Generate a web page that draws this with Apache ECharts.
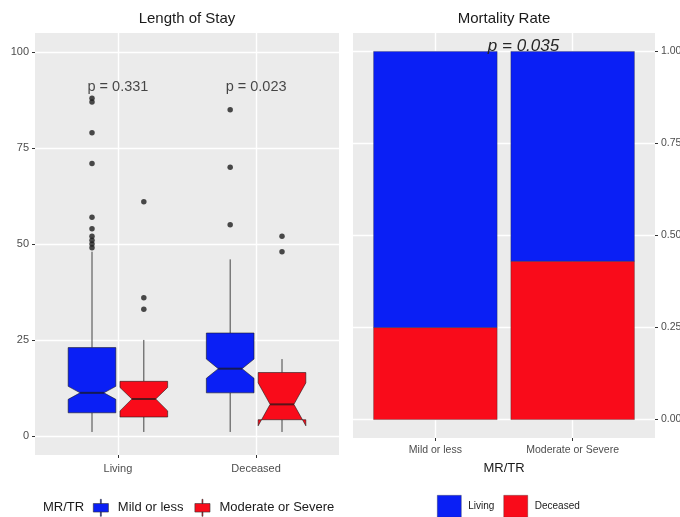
<!DOCTYPE html>
<html>
<head>
<meta charset="utf-8">
<script src="https://cdn.jsdelivr.net/npm/echarts@6/dist/echarts.min.js"></script>
<style>html,body{margin:0;padding:0;background:#fff;}#chart{width:680px;height:517px;}</style>
</head>
<body>
<div id="chart"></div>
<script>
// ---------- data ----------
const categories = ['Living', 'Deceased'];
const mrGroups = ['Mild or less', 'Moderate or Severe'];
// [low whisker, Q1, notch low, median, notch high, Q3, high whisker]
const mildStats = [[1, 6, 9.5, 11.2, 12.9, 23, 48], [1, 11.2, 15, 17.5, 20, 26.8, 46]];
const severeStats = [[1, 4.9, 6.5, 9.6, 12.6, 14.2, 25], [1, 4.2, 2.6, 8.2, 13.8, 16.5, 20]];
const mildOutliers = [[49, 50, 51, 52, 54, 57, 71, 79, 87, 88], [55, 70, 85]];
const severeOutliers = [[33, 36, 61], [48, 52]];
const losPValues = ['p = 0.331', 'p = 0.023'];
const losTicks = [0, 25, 50, 75, 100];
const losMinor = [12.5, 37.5, 62.5, 87.5];

const mortCategories = ['Mild or less', 'Moderate or Severe'];
const outcomeNames = ['Living', 'Deceased'];
const livingShare = [0.75, 0.57];
const deceasedShare = [0.25, 0.43];
const mortTicks = [0, 0.25, 0.5, 0.75, 1];
const mortMinor = [0.125, 0.375, 0.625, 0.875];
const mortPValue = 'p = 0.035';

// ---------- style ----------
const FONT = '"Liberation Sans", Arial, Helvetica, sans-serif';
const BLUE = '#0a1ff5';
const RED = '#f90b1a';
const PANEL = '#ebebeb';
const DODGE = 0.1875, BOX_W = 0.345, NOTCH = 0.5, BAR_W = 0.9;
const STROKE = 'rgba(25,25,25,0.72)';

function boxData(stats, offset) {
  return stats.map((s, i) => [i + 1 + offset].concat(s));
}
function outlierData(outs, offset) {
  const res = [];
  outs.forEach((arr, i) => arr.forEach(v => res.push([i + 1 + offset, v])));
  return res;
}
function makeBoxRender(fill) {
  return function (params, api) {
    const x = api.value(0);
    const v = k => api.value(k);
    const Y = val => api.coord([x, val])[1];
    const cx = api.coord([x, v(4)])[0];
    const w = api.size([BOX_W, 0])[0];
    const xmin = cx - w / 2, xmax = cx + w / 2, ins = w * (1 - NOTCH) / 2;
    const pts = [
      [xmin, Y(v(6))], [xmin, Y(v(5))], [xmin + ins, Y(v(4))], [xmin, Y(v(3))], [xmin, Y(v(2))],
      [xmax, Y(v(2))], [xmax, Y(v(3))], [xmax - ins, Y(v(4))], [xmax, Y(v(5))], [xmax, Y(v(6))]
    ];
    return {
      type: 'group',
      children: [
        { type: 'line', shape: { x1: cx, y1: Y(v(6)), x2: cx, y2: Y(v(7)) }, style: { stroke: '#444', lineWidth: 1 } },
        { type: 'line', shape: { x1: cx, y1: Y(v(2)), x2: cx, y2: Y(v(1)) }, style: { stroke: '#444', lineWidth: 1 } },
        { type: 'polygon', shape: { points: pts }, style: { fill: fill, stroke: STROKE, lineWidth: 0.8 } },
        { type: 'line', shape: { x1: xmin + ins, y1: Y(v(4)), x2: xmax - ins, y2: Y(v(4)) }, style: { stroke: STROKE, lineWidth: 2 } }
      ]
    };
  };
}
function makeBarRender(fill) {
  return function (params, api) {
    const x = api.value(0);
    const p0 = api.coord([x, api.value(1)]);
    const p1 = api.coord([x, api.value(2)]);
    const w = api.size([BAR_W, 0])[0];
    return {
      type: 'rect',
      shape: { x: p0[0] - w / 2, y: p1[1], width: w, height: p0[1] - p1[1] },
      style: { fill: fill, stroke: 'rgba(40,40,40,0.55)', lineWidth: 0.6 }
    };
  };
}

const axisLabelStyle = { color: '#4d4d4d', fontSize: 11, fontFamily: FONT };
const tickStyle = { show: true, length: 3, lineStyle: { color: '#333', width: 1 } };
const majorSplit = { show: true, lineStyle: { color: '#ffffff', width: 1.4 } };
const minorSplit = { show: true, lineStyle: { color: '#ffffff', width: 0.7 } };

const chart = echarts.init(document.getElementById('chart'), null, { renderer: 'canvas' });

const option = {
  backgroundColor: '#ffffff',
  animation: false,
  textStyle: { fontFamily: FONT },
  grid: [
    { left: 35, top: 33, width: 304, height: 422, show: true, backgroundColor: PANEL, borderWidth: 0, containLabel: false, outerBoundsMode: 'none' },
    { left: 353, top: 33, width: 302, height: 405, show: true, backgroundColor: PANEL, borderWidth: 0, containLabel: false, outerBoundsMode: 'none' }
  ],
  xAxis: [
    {
      type: 'value', gridIndex: 0, min: 0.4, max: 2.6,
      axisLine: { show: false, onZero: false },
      axisTick: Object.assign({}, tickStyle, { customValues: [1, 2] }),
      axisLabel: Object.assign({}, axisLabelStyle, { customValues: [1, 2], margin: 8, formatter: v => categories[Math.round(v) - 1] }),
      splitLine: majorSplit
    },
    {
      type: 'value', gridIndex: 1, min: 0.4, max: 2.6,
      name: 'MR/TR', nameLocation: 'middle', nameGap: 24,
      nameTextStyle: { color: '#1a1a1a', fontSize: 13, fontFamily: FONT },
      axisLine: { show: false, onZero: false },
      axisTick: Object.assign({}, tickStyle, { customValues: [1, 2] }),
      axisLabel: Object.assign({}, axisLabelStyle, { fontSize: 10.5, customValues: [1, 2], margin: 7, formatter: v => mortCategories[Math.round(v) - 1] }),
      splitLine: majorSplit
    }
  ],
  yAxis: [
    {
      type: 'value', gridIndex: 0, min: -5, max: 105,
      axisLine: { show: false, onZero: false },
      axisTick: Object.assign({}, tickStyle, { customValues: losTicks }),
      axisLabel: Object.assign({}, axisLabelStyle, { customValues: losTicks, margin: 6 }),
      splitLine: majorSplit
    },
    {
      type: 'value', gridIndex: 0, min: -5, max: 105,
      axisLine: { show: false, onZero: false },
      axisTick: { show: false, customValues: losMinor },
      axisLabel: { show: false },
      splitLine: minorSplit, z: -1
    },
    {
      type: 'value', gridIndex: 1, min: -0.05, max: 1.05, position: 'right',
      axisLine: { show: false, onZero: false },
      axisTick: Object.assign({}, tickStyle, { customValues: mortTicks }),
      axisLabel: Object.assign({}, axisLabelStyle, { fontSize: 10.5, customValues: mortTicks, margin: 6, formatter: v => v.toFixed(2) }),
      splitLine: majorSplit
    },
    {
      type: 'value', gridIndex: 1, min: -0.05, max: 1.05, position: 'right',
      axisLine: { show: false, onZero: false },
      axisTick: { show: false, customValues: mortMinor },
      axisLabel: { show: false },
      splitLine: minorSplit, z: -1
    }
  ],
  legend: [
    {
      left: 93, top: 499, padding: 0, orient: 'horizontal',
      itemWidth: 16, itemHeight: 17, itemGap: 11,
      textStyle: { color: '#1a1a1a', fontSize: 13, fontFamily: FONT, padding: [0, 0, 0, 4] },
      itemStyle: { borderColor: '#333', borderWidth: 0.6 },
      data: mrGroups.map(n => ({ name: n, icon: 'path://M0,4.5h16v9h-16z M7.5,0h1v4.5h-1z M7.5,13.5h1v4.5h-1z' })),
      selectedMode: false
    },
    {
      left: 437, top: 495, padding: 0,
      itemWidth: 24, itemHeight: 22, itemGap: 9,
      textStyle: { color: '#1a1a1a', fontSize: 10, fontFamily: FONT, padding: [0, 0, 0, 2] },
      itemStyle: { borderColor: 'rgba(40,40,40,0.55)', borderWidth: 0.6 },
      data: outcomeNames.map(n => ({ name: n, icon: 'rect' })),
      selectedMode: false
    }
  ],
  graphic: [
    { type: 'text', x: 187, y: 19, z: 100, style: { text: 'Length of Stay', font: '15px ' + FONT, fill: '#1a1a1a', align: 'center', verticalAlign: 'middle' } },
    { type: 'text', x: 504, y: 19, z: 100, style: { text: 'Mortality Rate', font: '15px ' + FONT, fill: '#1a1a1a', align: 'center', verticalAlign: 'middle' } },
    { type: 'text', x: 43, y: 507, z: 100, style: { text: 'MR/TR', font: '13px ' + FONT, fill: '#1a1a1a', align: 'left', verticalAlign: 'middle' } },
    { type: 'text', x: 523.5, y: 46.5, z: 100, zlevel: 2, style: { text: mortPValue, font: 'italic 17px ' + FONT, fill: '#262626', align: 'center', verticalAlign: 'middle' } }
  ],
  series: [
    {
      name: mrGroups[0], type: 'custom', xAxisIndex: 0, yAxisIndex: 0,
      itemStyle: { color: BLUE },
      renderItem: makeBoxRender(BLUE),
      encode: { x: 0, y: [1, 2, 3, 4, 5, 6, 7] },
      data: boxData(mildStats, -DODGE), z: 2
    },
    {
      name: mrGroups[1], type: 'custom', xAxisIndex: 0, yAxisIndex: 0,
      itemStyle: { color: RED },
      renderItem: makeBoxRender(RED),
      encode: { x: 0, y: [1, 2, 3, 4, 5, 6, 7] },
      data: boxData(severeStats, DODGE), z: 2
    },
    {
      name: 'mild outliers', type: 'scatter', xAxisIndex: 0, yAxisIndex: 0,
      symbolSize: 5.5, itemStyle: { color: '#1e1e1e' },
      data: outlierData(mildOutliers, -DODGE), z: 3
    },
    {
      name: 'severe outliers', type: 'scatter', xAxisIndex: 0, yAxisIndex: 0,
      symbolSize: 5.5, itemStyle: { color: '#1e1e1e' },
      data: outlierData(severeOutliers, DODGE), z: 3
    },
    {
      name: 'los p', type: 'scatter', xAxisIndex: 0, yAxisIndex: 0,
      symbolSize: 0, silent: true,
      label: { show: true, position: 'inside', formatter: p => p.value[2], color: '#1a1a1a', fontSize: 14.5, fontFamily: FONT },
      data: losPValues.map((t, i) => [i + 1, 90.9, t]), z: 4
    },
    {
      name: outcomeNames[1], type: 'custom', xAxisIndex: 1, yAxisIndex: 2,
      itemStyle: { color: RED },
      renderItem: makeBarRender(RED),
      encode: { x: 0, y: [1, 2] },
      data: deceasedShare.map((v, i) => [i + 1, 0, v]), z: 1
    },
    {
      name: outcomeNames[0], type: 'custom', xAxisIndex: 1, yAxisIndex: 2,
      itemStyle: { color: BLUE },
      renderItem: makeBarRender(BLUE),
      encode: { x: 0, y: [1, 2] },
      data: livingShare.map((v, i) => [i + 1, deceasedShare[i], deceasedShare[i] + v]), z: 1
    }
  ]
};
chart.setOption(option);
</script>
</body>
</html>
